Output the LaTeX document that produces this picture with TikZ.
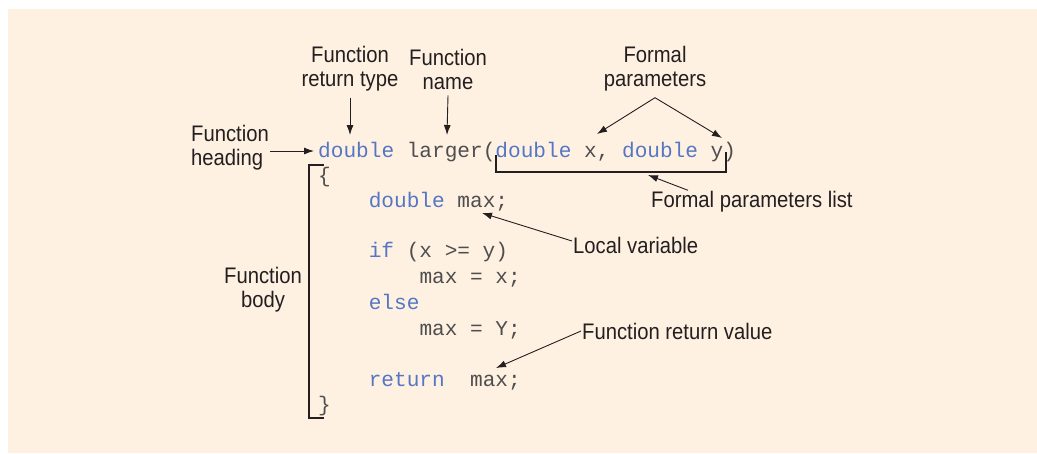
\documentclass[tikz,border=0pt]{standalone}
\usepackage{fontspec}
\setsansfont{Liberation Sans}[FakeStretch=0.9]
\setmonofont{Liberation Mono}
\usetikzlibrary{arrows.meta}

\definecolor{paper}{RGB}{255,241,226}
\definecolor{kwblue}{RGB}{84,118,196}
\definecolor{ink}{RGB}{35,31,32}
\definecolor{codeink}{RGB}{78,78,78}

\newcommand{\kwd}[1]{\textcolor{kwblue}{#1}}

\tikzset{
  lbl/.style={font=\sffamily\fontsize{22.5}{24}\selectfont, text=ink,
              align=center, inner sep=1pt},
  code/.style={font=\ttfamily\fontsize{21.1}{25}\selectfont, text=codeink,
               anchor=base west, inner sep=0pt},
  arr/.style={draw=ink, line width=0.9pt, -{Latex[length=10pt,width=7pt]}},
  brk/.style={draw=ink, line width=1.1pt},
}

\begin{document}
\begin{tikzpicture}[x=1pt, y=-1pt]

\useasboundingbox (0,0) rectangle (1037,453);
\fill[paper] (8,9) rectangle (1037,453);

% code
\node[code] (head) at (318,157) {\kwd{double} larger(\kwd{double} x, \kwd{double} y)};
\node[code] (open) at (318,182) {\{};
\node[code] (decl) at (368.6,207) {\kwd{double} max;};
\node[code] (cond) at (368.6,257) {\kwd{if} (x >= y)};
\node[code] (then) at (419.3,283) {max = x;};
\node[code] (els) at (368.6,309) {\kwd{else}};
\node[code] (alt) at (419.3,335) {max = Y;};
\node[code] (ret) at (368.6,386) {\kwd{return}\ \ max;};
\node[code] (close) at (318,411) {\}};

% labels
\node[lbl] (rettype) at (350,69) {Function\\return type};
\node[lbl] (fname) at (448,69) {Function\\name};
\node[lbl] (formal) at (655,69) {Formal\\parameters};
\node[lbl, align=left, anchor=west] (heading) at (190,148) {Function\\heading};
\node[lbl] (body) at (263,290) {Function\\body};
\node[lbl, anchor=west] (plist) at (650,202) {Formal parameters list};
\node[lbl, anchor=west] (local) at (572,245) {Local variable};
\node[lbl, anchor=west] (retval) at (581,331) {Function return value};

% arrow tips
\coordinate (hd-tip) at (314,151);
\coordinate (rt-tip) at (350,135);
\coordinate (fn-tip) at (447,135);
\coordinate (px-tip) at (597,134);
\coordinate (py-tip) at (722,138);
\coordinate (pl-tip) at (648,175);
\coordinate (lv-tip) at (482,213);
\coordinate (rv-tip) at (496,368);

% brackets
\draw[brk] (496,155) -- (496,172) -- (726,172) -- (726,152);
\draw[brk] (324,165) -- (309,165) -- (309,418) -- (324,418);

% arrows
\draw[arr] ([yshift=-3pt]heading.east) -- (hd-tip);
\draw[arr] ([yshift=-5pt]rettype.south) -- (rt-tip);
\draw[arr] ([yshift=-5pt]fname.south) -- (fn-tip);
\draw[arr] ([yshift=-5pt]formal.south) -- (px-tip);
\draw[arr] ([yshift=-5pt]formal.south) -- (py-tip);
\draw[arr] ([xshift=38pt]plist.north west) -- (pl-tip);
\draw[arr] ([yshift=4pt]local.west) -- (lv-tip);
\draw[arr] (retval.west) -- (rv-tip);

\end{tikzpicture}
\end{document}
